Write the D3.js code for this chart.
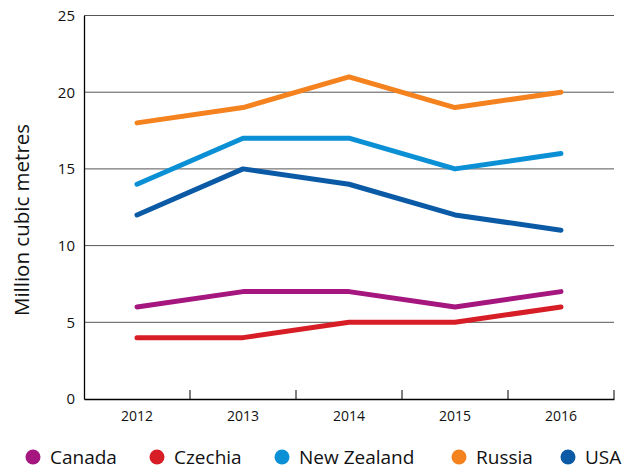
<!DOCTYPE html>
<html>
<head>
<meta charset="UTF-8">
<title>Million cubic metres</title>
<style>
  body { margin: 0; background: #fff; }
  svg { display: block; font-family: 'Open Sans', 'Noto Sans', sans-serif; }
</style>
</head>
<body>
<svg id="chart" width="638" height="470"></svg>
<script src="https://cdn.jsdelivr.net/npm/d3@7"></script>
<script>
// data
var years = ['2012', '2013', '2014', '2015', '2016'];
var canada = [6, 7, 7, 6, 7];
var czechia = [4, 4, 5, 5, 6];
var newZealand = [14, 17, 17, 15, 16];
var russia = [18, 19, 21, 19, 20];
var usa = [12, 15, 14, 12, 11];
var yTicks = [0, 5, 10, 15, 20, 25];

var series = [
  { name: 'Canada', values: canada, color: '#a5167e' },
  { name: 'Czechia', values: czechia, color: '#d71e26' },
  { name: 'New Zealand', values: newZealand, color: '#0b90d5' },
  { name: 'Russia', values: russia, color: '#f4821f' },
  { name: 'USA', values: usa, color: '#0a5aa6' }
];

var svg = d3.select('#chart');
var plotLeft = 84, plotRight = 614, plotTop = 15.5, plotBottom = 399;

var x = d3.scaleBand().domain(years).range([plotLeft, plotRight]);
var y = d3.scaleLinear().domain([0, 25]).range([plotBottom, plotTop]);

// gridlines
svg.append('g')
  .selectAll('line')
  .data(yTicks.filter(function (d) { return d > 0; }))
  .enter().append('line')
  .attr('x1', plotLeft).attr('x2', plotRight)
  .attr('y1', function (d) { return y(d); })
  .attr('y2', function (d) { return y(d); })
  .attr('stroke', '#555').attr('stroke-width', 1);

// y axis
var yAxis = svg.append('g')
  .attr('transform', 'translate(' + plotLeft + ',0)')
  .call(d3.axisLeft(y).tickValues(yTicks).tickSize(0).tickPadding(9));
yAxis.select('.domain').attr('stroke', '#000').attr('stroke-width', 1.3);
yAxis.selectAll('text').attr('font-size', 15).attr('fill', '#111')
  .attr('font-family', "'Open Sans', sans-serif");

// x axis with ticks pointing up between bands
var xAxis = svg.append('g')
  .attr('transform', 'translate(0,' + plotBottom + ')')
  .call(d3.axisBottom(x).tickSize(0).tickPadding(12));
xAxis.select('.domain').attr('stroke', '#000').attr('stroke-width', 1.3);
xAxis.selectAll('text').attr('font-size', 14).attr('fill', '#111')
  .attr('font-family', "'Open Sans', sans-serif");
xAxis.selectAll('.sep')
  .data(years)
  .enter().append('line')
  .attr('class', 'sep')
  .attr('x1', function (d) { return x(d) + x.bandwidth(); })
  .attr('x2', function (d) { return x(d) + x.bandwidth(); })
  .attr('y1', 0).attr('y2', -9)
  .attr('stroke', '#000').attr('stroke-width', 1);

// y title
svg.append('text')
  .attr('transform', 'translate(29,220) rotate(-90)')
  .attr('text-anchor', 'middle')
  .attr('font-size', 20.5)
  .attr('fill', '#111')
  .text('Million cubic metres');

// lines
var line = d3.line()
  .x(function (d, i) { return x(years[i]) + x.bandwidth() / 2; })
  .y(function (d) { return y(d); });

svg.append('g')
  .selectAll('path')
  .data(series)
  .enter().append('path')
  .attr('d', function (s) { return line(s.values); })
  .attr('fill', 'none')
  .attr('stroke', function (s) { return s.color; })
  .attr('stroke-width', 5)
  .attr('stroke-linecap', 'round')
  .attr('stroke-linejoin', 'round');

// legend
var legendX = [33, 157, 282, 459, 568];
var legend = svg.append('g')
  .selectAll('g')
  .data(series)
  .enter().append('g')
  .attr('transform', function (s, i) { return 'translate(' + legendX[i] + ',457)'; });
legend.append('circle').attr('r', 7.5).attr('fill', function (s) { return s.color; });
legend.append('text')
  .attr('x', 17).attr('y', 7)
  .attr('font-size', 19)
  .attr('fill', '#111')
  .text(function (s) { return s.name; });
</script>
</body>
</html>
